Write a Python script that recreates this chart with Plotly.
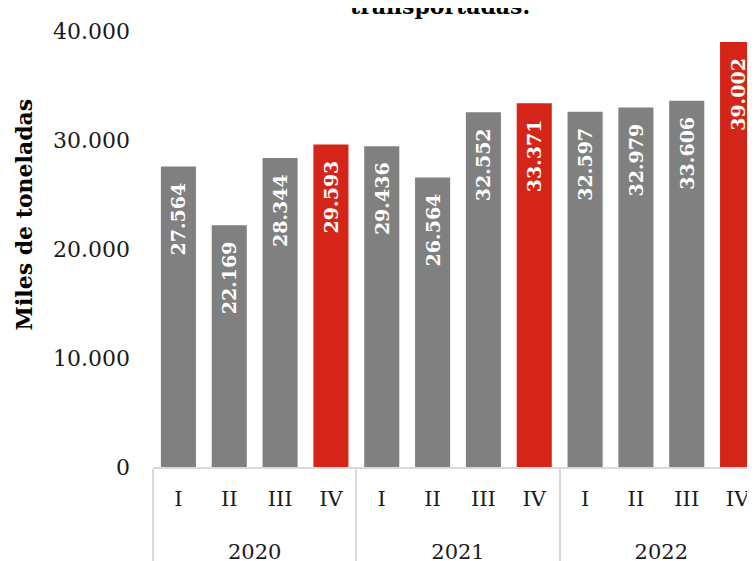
import plotly.graph_objects as go

years = ["2020"] * 4 + ["2021"] * 4 + ["2022"] * 4
quarters = ["I", "II", "III", "IV"] * 3
values = [27564, 22169, 28344, 29593, 29436, 26564, 32552, 33371, 32597, 32979, 33606, 39002]
labels = ["27.564", "22.169", "28.344", "29.593", "29.436", "26.564", "32.552", "33.371",
          "32.597", "32.979", "33.606", "39.002"]

GRAY = "#808080"
RED = "#D42518"
colors = [RED if q == "IV" else GRAY for q in quarters]

FONT = "DejaVu Serif"

# quarter labels get an empty (taller) second line so the year row sits lower
quarter_ticks = [q + "<br><span style='font-size:54px'>\u00a0</span>" for q in quarters]

fig = go.Figure(go.Bar(
    x=[years, quarter_ticks],
    y=values,
    marker=dict(color=colors, line=dict(width=0)),
    text=labels,
    texttemplate="%{text}\u00a0\u00a0",
    textposition="inside",
    insidetextanchor="end",
    textangle=-90,
    textfont=dict(family=FONT, size=19, color="white", weight="bold"),
    cliponaxis=True,
))

fig.update_layout(
    width=755, height=561,
    margin=dict(l=145, r=0, t=23, b=102),
    paper_bgcolor="white", plot_bgcolor="white",
    separators=",.",
    bargap=0.31,
    showlegend=False,
    font=dict(family=FONT, color="#1a1a1a"),
    annotations=[
        dict(
            text="<b>transportadas.</b>",
            xref="paper", yref="paper", x=0.47, y=1.023,
            xanchor="center", yanchor="bottom", showarrow=False,
            font=dict(family=FONT, size=22, color="#000000"),
        ),
        dict(
            text="<b>Miles de toneladas</b>",
            xref="paper", yref="paper", x=-0.211, y=0.58,
            xanchor="center", yanchor="middle", showarrow=False, textangle=-90,
            font=dict(family=FONT, size=22, color="#000000"),
        ),
    ],
)

fig.update_yaxes(
    range=[0, 40000], tickvals=[0, 10000, 20000, 30000, 40000],
    tickformat=",d", showgrid=False, zeroline=False, showline=False,
    tickfont=dict(family=FONT, size=22, color="#1a1a1a"),
    ticklabelstandoff=22, automargin=False,
)
fig.update_xaxes(
    type="multicategory",
    showline=True, linecolor="#D9D9D9", linewidth=2,
    showdividers=True, dividercolor="#D9D9D9", dividerwidth=2,
    tickfont=dict(family=FONT, size=21, color="#1a1a1a"),
    ticklabelstandoff=12, automargin=False,
    showgrid=False,
)

fig.write_html("out.html")
